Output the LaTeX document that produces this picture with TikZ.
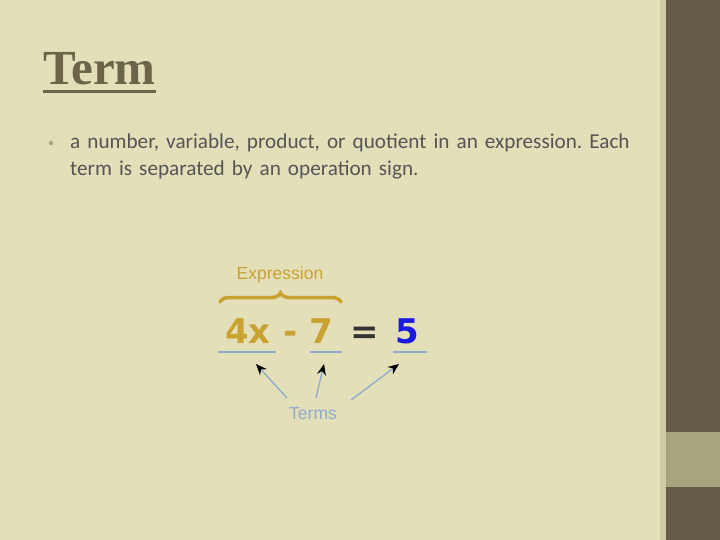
\documentclass[tikz,border=0pt]{standalone}
\usepackage{fontspec}
\setmainfont{Liberation Serif}
\newfontfamily\bodyfont{Carlito}
\newfontfamily\labelfont{Liberation Sans}
\newfontfamily\handfont{DejaVu Sans}
\usetikzlibrary{arrows.meta,positioning,decorations.pathreplacing}

\definecolor{slidebg}{HTML}{E3DFB9}
\definecolor{titlecol}{HTML}{6B6448}
\definecolor{bodycol}{HTML}{555555}
\definecolor{goldcol}{HTML}{C9A232}
\definecolor{fivecol}{HTML}{1A1AE0}
\definecolor{linecol}{HTML}{8FAACB}
\definecolor{bardark}{HTML}{655C47}
\definecolor{barlight}{HTML}{A8A47E}
\definecolor{barstrip}{HTML}{D0CCA2}

\tikzset{
  glyph/.style={anchor=base,inner sep=0pt,font=\handfont\bfseries\fontsize{34}{34}\selectfont},
  uline/.style={draw=linecol,line width=1.8pt},
  termarrow/.style={draw=linecol,line width=1.3pt,-{Stealth[black,length=11pt,width=9pt]}}
}

\begin{document}
\begin{tikzpicture}[x=1pt,y=-1pt]
  \useasboundingbox (0,0) rectangle (720,540);
  % background and side bar
  \fill[slidebg] (0,0) rectangle (720,540);
  \fill[barstrip] (660,0) rectangle (666,540);
  \fill[bardark] (666,0) rectangle (720,540);
  \fill[barlight] (666,432) rectangle (720,487);

  % title
  \node[anchor=base west,inner sep=0pt,text=titlecol,font=\bfseries\fontsize{49}{49}\selectfont] (title) at (43,85) {Term};
  \draw[titlecol,line width=3pt] ([yshift=-7pt]title.base west) -- ([yshift=-7pt]title.base east);

  % bullet
  \fill[barlight] (51,143) circle (2.2);
  \node[anchor=north west,inner sep=0pt,text width=590pt,align=left,text=bodycol,
        font=\bodyfont\frenchspacing\fontsize{21.2}{27}\selectfont] (body) at (70,134)
    {a number, variable, product, or quotient in an expression. Each term is separated by an operation sign.};

  % expression
  \node[anchor=base,text=goldcol,font=\labelfont\fontsize{17.5}{17.5}\selectfont] (expr) at (280,279) {Expression};
  \draw[goldcol,line width=3.5pt,line cap=round,decorate,decoration={brace,amplitude=9pt}] (220,302) -- (341,302);

  \node[glyph,text=goldcol] (fourx) at (248,343) {4x};
  \node[glyph,text=goldcol] (minus) at (291,343) {-};
  \node[glyph,text=goldcol] (seven) at (321,343) {7};
  \node[glyph,text=black!80] (equal) at (365,343) {=};
  \node[glyph,text=fivecol] (five) at (407,343) {5};

  \draw[uline] (218,352) -- (276,352);
  \draw[uline] (310,352) -- (342,352);
  \draw[uline] (393,352) -- (427,352);

  % terms label and arrows
  \node[text=linecol,font=\labelfont\fontsize{17.5}{17.5}\selectfont] (terms) at (313,414) {Terms};
  \coordinate (t1) at (256,364);
  \coordinate (t2) at (324,364);
  \coordinate (t3) at (399,364);
  \coordinate (s1) at (287,398);
  \coordinate (s2) at (316,398);
  \coordinate (s3) at (351,400);
  \draw[termarrow] (s1) -- (t1);
  \draw[termarrow] (s2) -- (t2);
  \draw[termarrow] (s3) -- (t3);
\end{tikzpicture}
\end{document}
